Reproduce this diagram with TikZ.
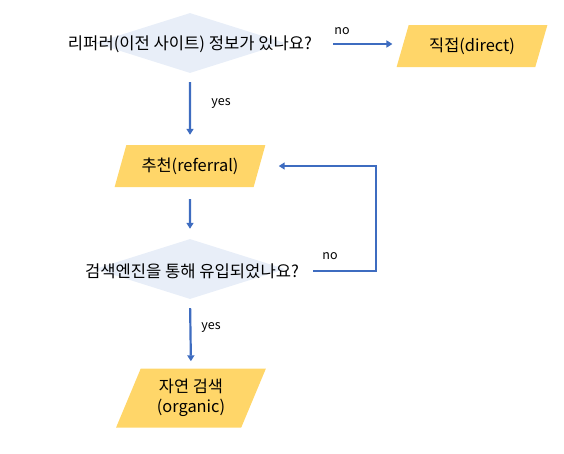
\documentclass[tikz,border=0pt]{standalone}
\usepackage{fontspec}
\usetikzlibrary{shapes.geometric,arrows.meta}
\newfontfamily\kr{Noto Sans CJK KR}
\definecolor{flowblue}{RGB}{62,108,192}
\definecolor{askfill}{RGB}{232,238,248}
\definecolor{srcfill}{RGB}{255,214,105}

\begin{document}
\begin{tikzpicture}[x=1pt,y=-1pt,font=\kr,
    ask/.style={diamond,fill=askfill,inner sep=0pt,minimum width=190pt,minimum height=60pt},
    asktext/.style={inner sep=0pt,font=\kr\fontsize{16.6}{19}\selectfont},
    source/.style={trapezium,fill=srcfill,trapezium stretches=true,inner sep=0pt,
        minimum width=151pt,minimum height=42pt,trapezium left angle=62,trapezium right angle=118,
        align=center,font=\kr\fontsize{16.4}{20}\selectfont},
    flow/.style={draw=flowblue,line width=2.2pt,-{Triangle[width=7pt,length=6pt]}},
    tag/.style={inner sep=0pt,font=\kr\fontsize{12.5}{14}\selectfont}]
    \useasboundingbox (0,0) rectangle (564,453);

    \node[ask] (q1) at (190,43) {};
    \node[asktext] (q1t) at (190,44) {리퍼러(이전 사이트) 정보가 있나요?};
    \node[source,trapezium left angle=64,trapezium right angle=116] (direct) at (472,46) {직접(direct)};
    \node[source] (ref) at (190,166) {추천(referral)};
    \node[ask] (q2) at (190,269) {};
    \node[asktext] (q2t) at (192,271) {검색엔진을 통해 유입되었나요?};
    \node[source,minimum width=150pt,minimum height=59pt,trapezium left angle=66,trapezium right angle=114] (org) at (191,398) {자연 검색\\(organic)};

    \coordinate (bend) at (376,0);

    \draw[flow,shorten <=9pt,shorten >=10pt] (q1.south) -- (ref.north);
    \draw[flow,shorten <=21pt,shorten >=10pt] (q1t.east) -- (q1t.east -| direct.west);
    \draw[flow,shorten <=12pt,shorten >=10pt] (ref.south) -- (q2.north);
    \draw[flow,shorten <=14pt,shorten >=19pt] (q2t.east) -| (bend |- ref.east) -- (ref.east);
    \draw[flow,shorten <=9pt,shorten >=7pt] (q2.south) -- (org.north);

    \node[tag] (yes1) at (221,103) {yes};
    \node[tag] (no1) at (342,31) {no};
    \node[tag] (no2) at (330,256) {no};
    \node[tag] (yes2) at (211,327) {yes};
\end{tikzpicture}
\end{document}
